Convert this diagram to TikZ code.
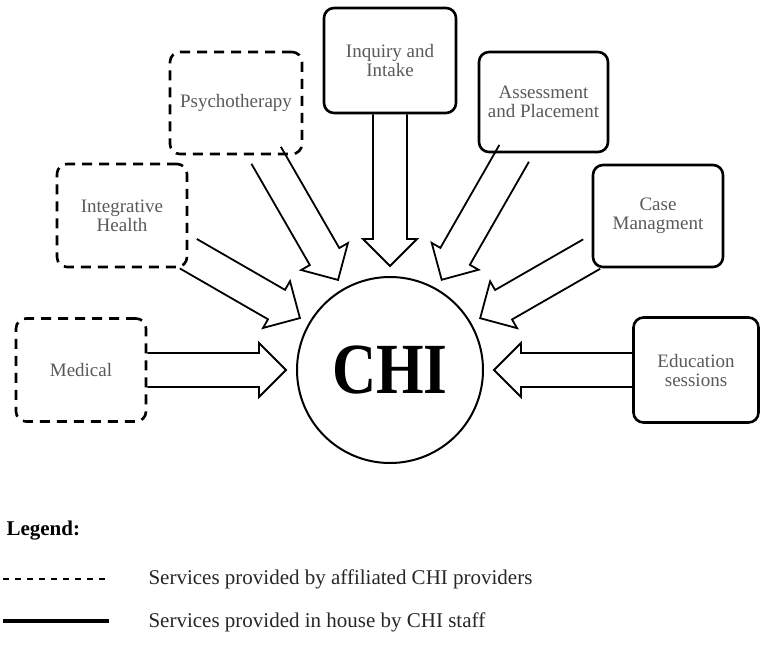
\documentclass[tikz,border=0pt]{standalone}
\usepackage{fontspec}
\setmainfont{Liberation Serif}
\usetikzlibrary{calc}

\tikzset{
  servbox/.style={draw, line width=2.6pt, rounded corners=10pt, minimum width=130pt,
    minimum height=103pt, align=center, text=black!65, font=\fontsize{19}{19}\selectfont},
  affil/.style={servbox, dash pattern=on 10pt off 7pt},
  inhouse/.style={servbox},
  fatline/.style={line width=1.8pt, line join=miter},
  legtext/.style={anchor=base west, text=black!85, font=\fontsize{21}{21}\selectfont},
}

% block arrow from the border of #1 towards the centre of #2
\newcommand\fatarrow[2]{%
  \path (#1) -- (#2) coordinate[pos=0] (fa-s) coordinate[pos=1] (fa-t);
  \coordinate (fa-e) at ($(fa-t)!10pt!(fa-s)$);
  \coordinate (fa-h) at ($(fa-e)!27pt!(fa-s)$);
  \draw[fatline] ($(fa-s)!17pt!90:(fa-e)$) -- ($(fa-h)!17pt!90:(fa-e)$)
    -- ($(fa-h)!27pt!90:(fa-e)$) -- (fa-e) -- ($(fa-h)!27pt!-90:(fa-e)$)
    -- ($(fa-h)!17pt!-90:(fa-e)$) -- ($(fa-s)!17pt!-90:(fa-e)$);
}

\begin{document}
\begin{tikzpicture}[x=1pt,y=-1pt]
  \useasboundingbox (0,0) rectangle (760,646);

  \node[draw, circle, line width=2pt, minimum size=186pt, inner sep=0pt] (chi) at (390,370)
    {\scalebox{0.85}[1]{\fontsize{72}{72}\selectfont\bfseries CHI}};

  \node[affil] (med) at (81,370) {Medical};
  \node[affil] (integ) at (122,215.5) {Integrative\\Health};
  \node[affil, minimum width=132pt, minimum height=102pt] (psy) at (236,103) {Psychotherapy};
  \node[inhouse, minimum width=132pt, minimum height=105pt] (inq) at (390,60.5) {Inquiry and\\Intake};
  \node[inhouse, minimum width=129pt, minimum height=100pt] (assess) at (543.5,102) {Assessment\\and Placement};
  \node[inhouse, minimum height=102pt] (casem) at (658,216) {Case\\Managment};
  \node[inhouse, minimum width=125pt, minimum height=105pt] (edu) at (696,370) {Education\\sessions};

  \foreach \src in {med,integ,psy,inq,assess,casem,edu}
    \fatarrow{\src}{chi};

  % legend
  \node[legtext, font=\fontsize{21}{21}\selectfont\bfseries, text=black] (leg) at (3,535) {Legend:};
  \draw[line width=1.3pt, dash pattern=on 6pt off 6pt] (3,579) -- (110,579);
  \node[legtext] (legaffil) at (145,584) {Services provided by affiliated CHI providers};
  \draw[line width=4pt] (3,621) -- (109,621);
  \node[legtext] (leghouse) at (145,627) {Services provided in house by CHI staff};
\end{tikzpicture}
\end{document}
